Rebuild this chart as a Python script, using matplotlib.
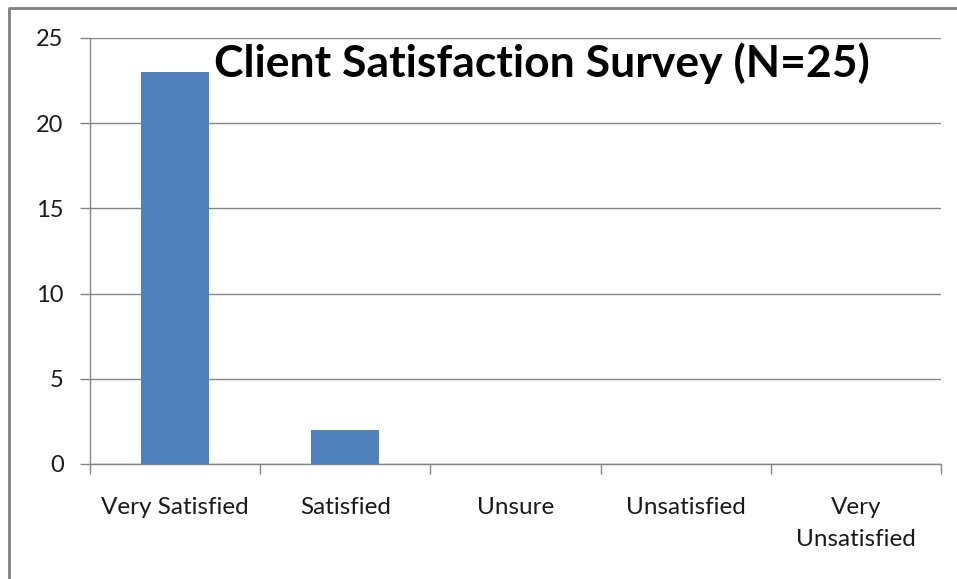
import matplotlib.pyplot as plt
from matplotlib.lines import Line2D

categories = ['Very Satisfied', 'Satisfied', 'Unsure', 'Unsatisfied', 'Very\nUnsatisfied']
counts = [23, 2, 0, 0, 0]
y_ticks = [0, 5, 10, 15, 20, 25]

plt.rcParams['font.family'] = ['Lato', 'DejaVu Sans']

fig = plt.figure(figsize=(9.57, 5.79), dpi=100)
ax = fig.add_axes([90 / 957, 1 - 464 / 579, 851 / 957, 426 / 579])

grid_col = '#868686'
x = list(range(len(categories)))
ax.bar(x, counts, width=0.4, color='#4f81bd', zorder=3)

ax.set_xlim(-0.5, len(categories) - 0.5)
ax.set_ylim(0, 25)
ax.set_yticks(y_ticks)
ax.yaxis.grid(True, color=grid_col, linewidth=1.0, zorder=0)

# category boundary ticks like Excel
ax.set_xticks([i - 0.5 for i in range(len(categories) + 1)])
ax.set_xticklabels([])
ax.set_xticks(x, minor=True)
ax.set_xticklabels(categories, minor=True, fontsize=17.5, color='#1a1a1a',
                   linespacing=1.65, va='top')
ax.tick_params(axis='x', which='minor', length=0, pad=24)
ax.tick_params(axis='x', which='major', length=7, color=grid_col, width=1)
ax.tick_params(axis='y', length=7, color=grid_col, width=1, pad=12,
               labelsize=17, labelcolor='#1a1a1a')

for side in ['top', 'right']:
    ax.spines[side].set_visible(False)
for side in ['left', 'bottom']:
    ax.spines[side].set_color(grid_col)
    ax.spines[side].set_linewidth(1)

ax.text(0.531, 0.99, 'Client Satisfaction Survey (N=25)', transform=ax.transAxes,
        ha='center', va='top', fontsize=32, fontweight='bold', color='black')

# outer chart frame (top and left edges visible)
fig.add_artist(Line2D([8.5 / 957, 8.5 / 957, 1], [0, 1 - 7.5 / 579, 1 - 7.5 / 579],
                      transform=fig.transFigure, color='#7f7f7f', linewidth=2))

fig.savefig('out.png', dpi=100)
